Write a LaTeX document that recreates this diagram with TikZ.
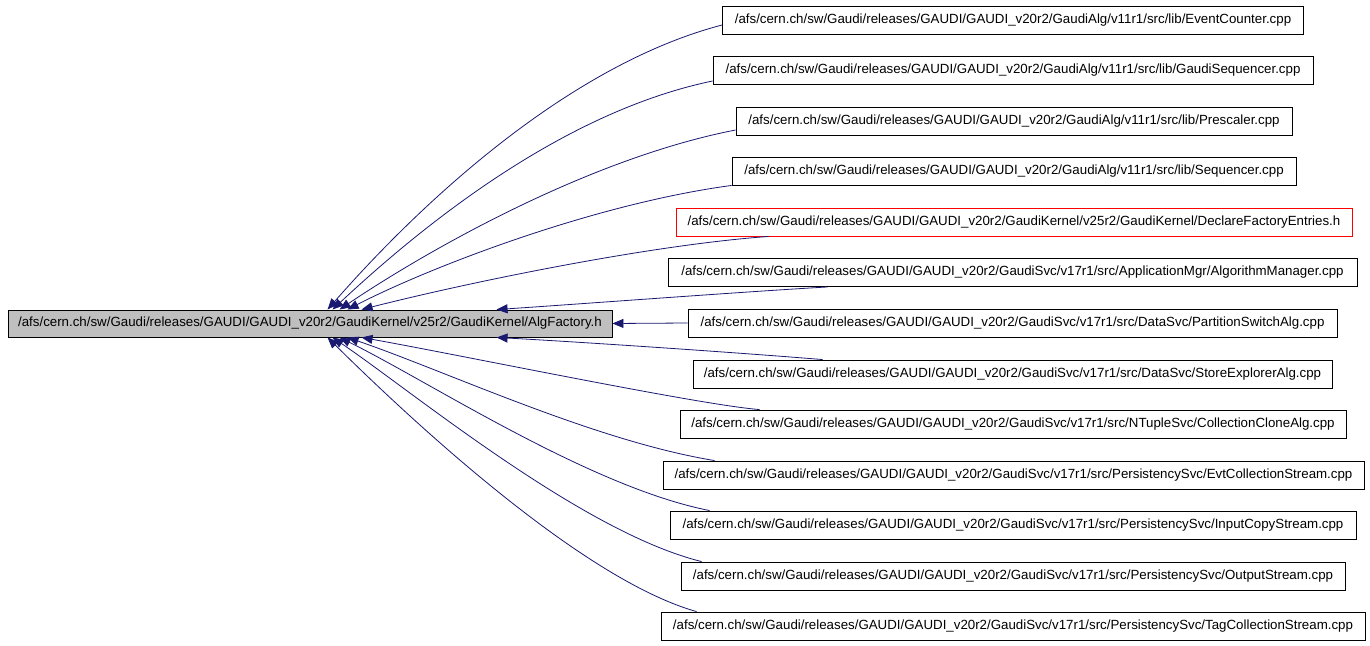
\documentclass[tikz,border=0pt]{standalone}
\usepackage{fontspec}
\setmainfont{Liberation Sans}
\usetikzlibrary{arrows.meta}
\definecolor{edgeblue}{RGB}{25,25,112}
\definecolor{boxgray}{RGB}{191,191,191}
\definecolor{boxred}{RGB}{255,0,0}
\begin{document}
\begin{tikzpicture}[x=1pt,y=-1pt,
  filebox/.style={draw=black,line width=0.9pt,fill=white,minimum height=28pt,inner sep=0pt,
    font=\fontsize{13.3}{15}\selectfont},
  mainbox/.style={filebox,fill=boxgray,minimum height=27pt},
  redbox/.style={filebox,draw=boxred},
  dep/.style={draw=edgeblue,line width=0.8pt,-{Triangle[length=11pt,width=9pt,fill=edgeblue]}}]
\useasboundingbox (0,0) rectangle (1370,645);
\fill[white] (0,0) rectangle (1370,645);

\node[mainbox,minimum width=604pt] (L) at (310,323.5) {/afs/cern.ch/sw/Gaudi/releases/GAUDI/GAUDI\_v20r2/GaudiKernel/v25r2/GaudiKernel/AlgFactory.h};

\node[filebox,minimum width=581pt] (r1) at (1013,20.5) {/afs/cern.ch/sw/Gaudi/releases/GAUDI/GAUDI\_v20r2/GaudiAlg/v11r1/src/lib/EventCounter.cpp};
\node[filebox,minimum width=600pt] (r2) at (1013,70) {/afs/cern.ch/sw/Gaudi/releases/GAUDI/GAUDI\_v20r2/GaudiAlg/v11r1/src/lib/GaudiSequencer.cpp};
\node[filebox,minimum width=556pt] (r3) at (1014,121) {/afs/cern.ch/sw/Gaudi/releases/GAUDI/GAUDI\_v20r2/GaudiAlg/v11r1/src/lib/Prescaler.cpp};
\node[filebox,minimum width=564pt] (r4) at (1014,171) {/afs/cern.ch/sw/Gaudi/releases/GAUDI/GAUDI\_v20r2/GaudiAlg/v11r1/src/lib/Sequencer.cpp};
\node[redbox,minimum width=676pt] (r5) at (1014,222) {/afs/cern.ch/sw/Gaudi/releases/GAUDI/GAUDI\_v20r2/GaudiKernel/v25r2/GaudiKernel/DeclareFactoryEntries.h};
\node[filebox,minimum width=689pt] (r6) at (1012.5,272.5) {/afs/cern.ch/sw/Gaudi/releases/GAUDI/GAUDI\_v20r2/GaudiSvc/v17r1/src/ApplicationMgr/AlgorithmManager.cpp};
\node[filebox,minimum width=649pt] (r7) at (1012.5,323) {/afs/cern.ch/sw/Gaudi/releases/GAUDI/GAUDI\_v20r2/GaudiSvc/v17r1/src/DataSvc/PartitionSwitchAlg.cpp};
\node[filebox,minimum width=639pt] (r8) at (1012.5,374) {/afs/cern.ch/sw/Gaudi/releases/GAUDI/GAUDI\_v20r2/GaudiSvc/v17r1/src/DataSvc/StoreExplorerAlg.cpp};
\node[filebox,minimum width=666pt] (r9) at (1013,424) {/afs/cern.ch/sw/Gaudi/releases/GAUDI/GAUDI\_v20r2/GaudiSvc/v17r1/src/NTupleSvc/CollectionCloneAlg.cpp};
\node[filebox,minimum width=701pt] (r10) at (1013.5,475) {/afs/cern.ch/sw/Gaudi/releases/GAUDI/GAUDI\_v20r2/GaudiSvc/v17r1/src/PersistencySvc/EvtCollectionStream.cpp};
\node[filebox,minimum width=686pt] (r11) at (1013,525) {/afs/cern.ch/sw/Gaudi/releases/GAUDI/GAUDI\_v20r2/GaudiSvc/v17r1/src/PersistencySvc/InputCopyStream.cpp};
\node[filebox,minimum width=664pt] (r12) at (1013,576) {/afs/cern.ch/sw/Gaudi/releases/GAUDI/GAUDI\_v20r2/GaudiSvc/v17r1/src/PersistencySvc/OutputStream.cpp};
\node[filebox,minimum width=704pt] (r13) at (1013,626) {/afs/cern.ch/sw/Gaudi/releases/GAUDI/GAUDI\_v20r2/GaudiSvc/v17r1/src/PersistencySvc/TagCollectionStream.cpp};

\draw[dep] ([yshift=-4.5pt]r1.west) .. controls (573,64) and (428,195) .. ([xshift=320pt]L.north west);
\draw[dep] ([yshift=-11pt]r2.west) .. controls (563,112) and (423,225) .. ([xshift=325pt]L.north west);
\draw[dep] ([yshift=-9pt]r3.west) .. controls (587,159) and (425,252) .. ([xshift=332pt]L.north west);
\draw[dep] (r4.south west) .. controls (593,204) and (428,268) .. ([xshift=340pt]L.north west);
\draw[dep] ([xshift=93pt]r5.south west) .. controls (650,245) and (470,282) .. ([xshift=354pt]L.north west);
\draw[dep] ([xshift=160pt]r6.south west) .. controls (740,292) and (580,304) .. ([xshift=489pt]L.north west);
\draw[dep] (r7.west) -- (L.east);
\draw[dep] ([xshift=130pt]r8.north west) .. controls (730,352) and (580,342) .. ([xshift=489pt]L.south west);
\draw[dep] ([xshift=80pt]r9.north west) .. controls (700,405) and (460,355) .. ([xshift=354pt]L.south west);
\draw[dep] ([xshift=52pt]r10.north west) .. controls (595,441) and (448,372) .. ([xshift=340pt]L.south west);
\draw[dep] ([xshift=40pt]r11.north west) .. controls (590,487) and (430,382) .. ([xshift=332pt]L.south west);
\draw[dep] ([xshift=21pt]r12.north west) .. controls (582,532) and (413,392) .. ([xshift=325pt]L.south west);
\draw[dep] ([xshift=36pt]r13.north west) .. controls (577,578) and (398,407) .. ([xshift=320pt]L.south west);
\end{tikzpicture}
\end{document}
